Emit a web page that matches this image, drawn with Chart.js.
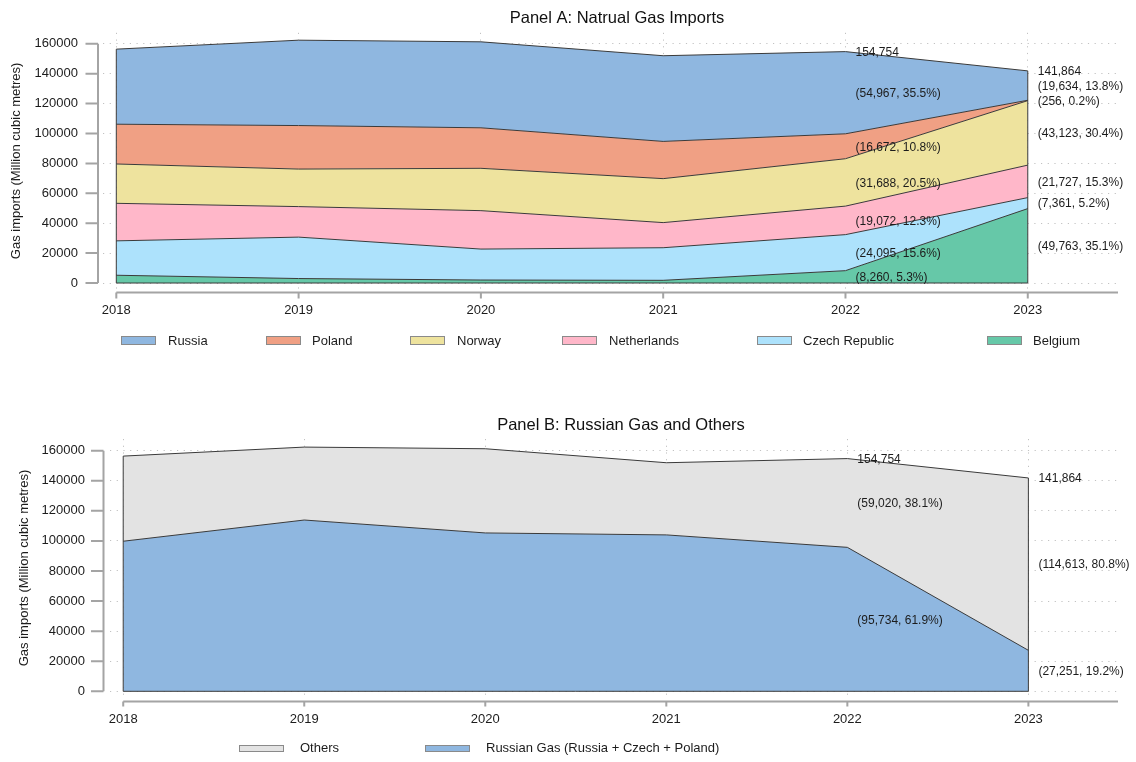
<!DOCTYPE html>
<html>
<head>
<meta charset="utf-8">
<title>Natural gas imports</title>
<script src="https://cdn.jsdelivr.net/npm/chart.js@4.4.1/dist/chart.umd.min.js"></script>
<style>
  html, body { margin: 0; padding: 0; background: #ffffff; }
  #wrap { position: relative; width: 1136px; height: 762px; overflow: hidden; }
  #panelA { position: absolute; left: 0; top: 0; }
  #panelB { position: absolute; left: 0; top: 380px; }
</style>
</head>
<body>
<div id="wrap">
  <canvas id="panelA" width="1136" height="380"></canvas>
  <canvas id="panelB" width="1136" height="382"></canvas>
</div>
<script>
// Imports by origin, million cubic metres
const years       = [2018, 2019, 2020, 2021, 2022, 2023];
const belgium     = [5200, 3000, 2000, 1800, 8260, 49763];
const czech       = [23000, 27700, 20700, 21800, 24095, 7361];
const netherlands = [25100, 20400, 25700, 16800, 19072, 21727];
const norway      = [26300, 25100, 28300, 29400, 31688, 43123];
const poland      = [26600, 29100, 27100, 24900, 16672, 256];
const russia      = [50200, 57100, 57500, 57300, 54967, 19634];

const yTickValues   = [0, 20000, 40000, 60000, 80000, 100000, 120000, 140000, 160000];
const labelledYears = [2022, 2023];

// Panel B groups: gas routed from Russia (Russia + Czech + Poland) and the rest
const russianGas = years.map((_, i) => russia[i] + czech[i] + poland[i]);
const otherGas   = years.map((_, i) => belgium[i] + netherlands[i] + norway[i]);

const COLORS = {
  Russia: '#8fb7e0',
  Poland: '#f0a084',
  Norway: '#eee39e',
  Netherlands: '#ffb7c9',
  'Czech Republic': '#ade2fc',
  Belgium: '#66c8a8',
  Others: '#e3e3e3',
  'Russian Gas (Russia + Czech + Poland)': '#8fb7e0'
};

const FONT = '"Liberation Sans", Arial, Helvetica, sans-serif';
const TEXT = '#1c1c1c';
Chart.defaults.font.family = FONT;
Chart.defaults.color = TEXT;

function series(label, values, fill) {
  return {
    label,
    data: years.map((yr, i) => ({ x: yr, y: values[i] })),
    backgroundColor: COLORS[label],
    borderColor: '#3a3a3a',
    borderWidth: 1,
    pointRadius: 0,
    pointHoverRadius: 0,
    tension: 0,
    fill
  };
}

const fmt = v => v.toLocaleString('en-US');

function buildScales(cfg) {
  const grid = { color: '#c2c2c2', lineWidth: 1, drawTicks: false };
  const border = { display: false, dash: [1.2, 5.5] };
  return {
    x: {
      type: 'linear',
      min: 2017.927,
      max: 2023.495,
      afterBuildTicks: s => { s.ticks = years.map(v => ({ value: v })); },
      afterFit: s => { s.height = cfg.xHeight; },
      grid, border,
      ticks: { padding: cfg.xPad, color: TEXT, font: { size: 13 }, maxRotation: 0, autoSkip: false,
               callback: v => String(v) }
    },
    y: {
      type: 'linear',
      stacked: true,
      min: cfg.yMin,
      max: cfg.yMax,
      afterBuildTicks: s => { s.ticks = yTickValues.map(v => ({ value: v })); },
      afterFit: s => { s.width = cfg.yWidth; },
      grid, border,
      ticks: { padding: 25, color: TEXT, font: { size: 13 }, callback: v => String(v) },
      title: { display: true, text: 'Gas imports (Million cubic metres)', color: TEXT,
               font: { size: 13 }, padding: { top: cfg.titlePad, bottom: 0 } }
    }
  };
}

// Axis lines drawn off the plotting region, with outward tick marks
const axesPlugin = {
  id: 'offsetAxes',
  afterDraw(chart, args, o) {
    const { ctx, chartArea, scales: { x, y } } = chart;
    ctx.save();
    ctx.strokeStyle = '#a4a4a4';
    ctx.lineWidth = 2;
    const ax = chartArea.left - o.yGap;
    ctx.beginPath();
    ctx.moveTo(ax, y.getPixelForValue(yTickValues[0]));
    ctx.lineTo(ax, y.getPixelForValue(yTickValues[yTickValues.length - 1]));
    yTickValues.forEach(v => {
      const py = y.getPixelForValue(v);
      ctx.moveTo(ax - o.yTick, py);
      ctx.lineTo(ax, py);
    });
    const ay = chartArea.bottom + o.xGap;
    ctx.moveTo(x.getPixelForValue(years[0]), ay);
    ctx.lineTo(chartArea.right, ay);
    years.forEach(v => {
      const px = x.getPixelForValue(v);
      ctx.moveTo(px, ay);
      ctx.lineTo(px, ay + o.xTick);
    });
    ctx.stroke();
    ctx.restore();
  }
};

// Closes the stacked polygon: base line and the two end edges
const edgesPlugin = {
  id: 'stackEdges',
  afterDatasetsDraw(chart) {
    const { ctx, scales: { y } } = chart;
    const top = chart.getDatasetMeta(chart.data.datasets.length - 1).data;
    const base = y.getPixelForValue(0);
    const first = top[0], last = top[top.length - 1];
    ctx.save();
    ctx.strokeStyle = '#3a3a3a';
    ctx.lineWidth = 1;
    ctx.beginPath();
    ctx.moveTo(first.x, first.y);
    ctx.lineTo(first.x, base);
    ctx.lineTo(last.x, base);
    ctx.lineTo(last.x, last.y);
    ctx.stroke();
    ctx.restore();
  }
};

// Value / share labels at chosen years, plus the column total
const valueLabelsPlugin = {
  id: 'valueLabels',
  afterDatasetsDraw(chart, args, o) {
    const { ctx, scales: { y } } = chart;
    const ds = chart.data.datasets;
    ctx.save();
    ctx.font = '12px ' + FONT;
    ctx.fillStyle = TEXT;
    ctx.textAlign = 'left';
    ctx.textBaseline = 'middle';
    labelledYears.forEach(yr => {
      const idx = years.indexOf(yr);
      const total = ds.reduce((s, d) => s + d.data[idx].y, 0);
      let below = y.getPixelForValue(0);
      let px = 0;
      ds.forEach((d, i) => {
        const pt = chart.getDatasetMeta(i).data[idx];
        const v = d.data[idx].y;
        px = pt.x + o.dx;
        const mid = (pt.y + below) / 2;
        ctx.fillText('(' + fmt(v) + ', ' + (v / total * 100).toFixed(1) + '%)', px, mid + 1);
        below = pt.y;
      });
      ctx.fillText(fmt(total), px, below + 1);
    });
    ctx.restore();
  }
};

// Panel title and a horizontal key placed under the axis
const decorPlugin = {
  id: 'decor',
  afterDraw(chart, args, o) {
    const { ctx } = chart;
    ctx.save();
    ctx.fillStyle = '#111111';
    ctx.font = '16.5px ' + FONT;
    ctx.textAlign = 'center';
    ctx.textBaseline = 'middle';
    ctx.fillText(o.title, o.titleX, o.titleY);

    ctx.font = '13px ' + FONT;
    ctx.textAlign = 'left';
    o.key.forEach(k => {
      const d = chart.data.datasets.find(s => s.label === k.label);
      ctx.fillStyle = d.backgroundColor;
      ctx.fillRect(k.boxX, o.keyY - o.boxH / 2, o.boxW, o.boxH);
      ctx.strokeStyle = '#8a8a8a';
      ctx.lineWidth = 1;
      ctx.strokeRect(k.boxX + 0.5, Math.round(o.keyY - o.boxH / 2) + 0.5, o.boxW, o.boxH);
      ctx.fillStyle = TEXT;
      ctx.fillText(k.label, k.textX, o.keyY + o.textDy);
    });
    ctx.restore();
  }
};

const basePlugins = {
  legend: { display: false },
  tooltip: { enabled: false }
};

// Panel A: stacked by country of origin (bottom to top)
new Chart(document.getElementById('panelA'), {
  type: 'line',
  data: {
    datasets: [
      series('Belgium', belgium, 'origin'),
      series('Czech Republic', czech, '-1'),
      series('Netherlands', netherlands, '-1'),
      series('Norway', norway, '-1'),
      series('Poland', poland, '-1'),
      series('Russia', russia, '-1')
    ]
  },
  options: {
    responsive: false,
    animation: false,
    events: [],
    layout: { padding: { top: 32, right: 18, left: 0, bottom: 0 } },
    scales: buildScales({ xHeight: 91, xPad: 14, yMin: -4000, yMax: 167333, yWidth: 103, titlePad: 9 }),
    plugins: {
      ...basePlugins,
      offsetAxes: { yGap: 5, yTick: 12.5, xGap: 3.5, xTick: 6 },
      valueLabels: { dx: 10 },
      decor: {
        title: 'Panel A: Natrual Gas Imports', titleX: 617, titleY: 18,
        keyY: 340, boxW: 34, boxH: 8, textDy: 1.5,
        key: [
          { label: 'Russia', boxX: 121, textX: 168 },
          { label: 'Poland', boxX: 266, textX: 312 },
          { label: 'Norway', boxX: 410, textX: 457 },
          { label: 'Netherlands', boxX: 562, textX: 609 },
          { label: 'Czech Republic', boxX: 757, textX: 803 },
          { label: 'Belgium', boxX: 987, textX: 1033 }
        ]
      }
    }
  },
  plugins: [axesPlugin, edgesPlugin, valueLabelsPlugin, decorPlugin]
});

// Panel B: Russian-routed gas against everything else
new Chart(document.getElementById('panelB'), {
  type: 'line',
  data: {
    datasets: [
      series('Russian Gas (Russia + Czech + Poland)', russianGas, 'origin'),
      series('Others', otherGas, '-1')
    ]
  },
  options: {
    responsive: false,
    animation: false,
    events: [],
    layout: { padding: { top: 59, right: 18, left: 0, bottom: 0 } },
    scales: buildScales({ xHeight: 65, xPad: 15, yMin: -3790, yMax: 167775, yWidth: 110, titlePad: 17 }),
    plugins: {
      ...basePlugins,
      offsetAxes: { yGap: 6.5, yTick: 12.5, xGap: 4.5, xTick: 5 },
      valueLabels: { dx: 10 },
      decor: {
        title: 'Panel B: Russian Gas and Others', titleX: 621, titleY: 45,
        keyY: 368, boxW: 44, boxH: 6, textDy: 0.5,
        key: [
          { label: 'Others', boxX: 239, textX: 300 },
          { label: 'Russian Gas (Russia + Czech + Poland)', boxX: 425, textX: 486 }
        ]
      }
    }
  },
  plugins: [axesPlugin, edgesPlugin, valueLabelsPlugin, decorPlugin]
});
</script>
</body>
</html>
